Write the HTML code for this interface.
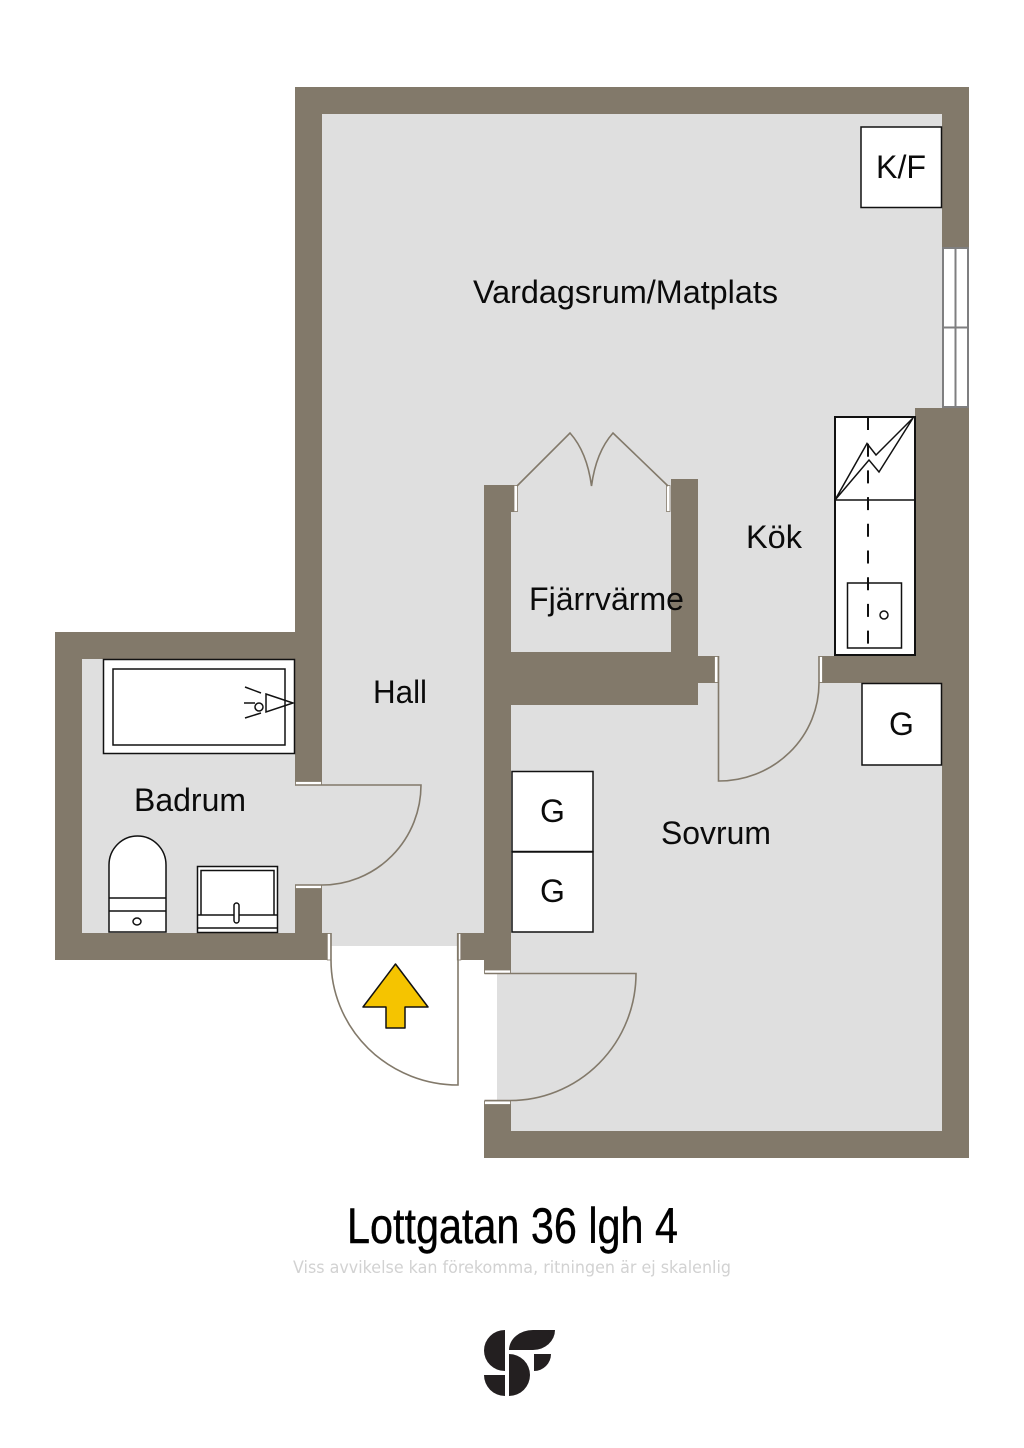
<!DOCTYPE html>
<html><head><meta charset="utf-8"><style>
html,body{margin:0;padding:0;background:#fff}
svg{display:block}
text{font-family:"Liberation Sans",sans-serif;fill:#0b0b0b}
.w{fill:#82796a}
.d{fill:none;stroke:#82796a;stroke-width:1.6}
.j{fill:#fff;stroke:#82796a;stroke-width:.8}
.b{fill:#fff;stroke:#111;stroke-width:2}
.t{fill:#fff;stroke:#111;stroke-width:1.5}
.l{fill:none;stroke:#111;stroke-width:1.5}
</style></head><body>
<svg width="1024" height="1448" viewBox="0 0 1024 1448" xmlns="http://www.w3.org/2000/svg">
<rect width="1024" height="1448" fill="#fff"/>
<!-- floors -->
<rect x="322" y="114" width="620" height="832" fill="#dfdfdf"/>
<rect x="82" y="659" width="240" height="274" fill="#dfdfdf"/>
<rect x="497" y="946" width="445" height="185" fill="#dfdfdf"/>
<rect x="458" y="946" width="39" height="27" fill="#fff"/>
<!-- walls -->
<rect class="w" x="295" y="87" width="674" height="27"/>
<rect class="w" x="295" y="87" width="27" height="697"/>
<rect class="w" x="942" y="87" width="27" height="1071"/>
<rect class="w" x="915" y="408" width="54" height="275"/>
<rect class="w" x="55" y="632" width="267" height="27"/>
<rect class="w" x="55" y="632" width="27" height="328"/>
<rect class="w" x="55" y="933" width="275" height="27"/>
<rect class="w" x="295" y="885" width="27" height="75"/>
<rect class="w" x="458" y="933" width="53" height="27"/>
<rect class="w" x="484" y="485" width="27" height="488"/>
<rect class="w" x="484" y="485" width="30" height="27"/>
<rect class="w" x="484" y="1101" width="27" height="57"/>
<rect class="w" x="484" y="1131" width="485" height="27"/>
<rect class="w" x="671" y="479" width="27" height="226"/>
<rect class="w" x="511" y="652" width="187" height="53"/>
<rect class="w" x="698" y="656" width="20" height="27"/>
<rect class="w" x="820" y="656" width="122" height="27"/>
<!-- window -->
<rect x="942" y="247" width="27" height="161" fill="#fff"/>
<g fill="none" stroke="#7f7f80" stroke-width="2">
<rect x="943" y="248" width="25" height="159"/>
<path d="M955.500 247V408M942 327.500H969"/>
</g>
<!-- door jambs -->
<rect class="j" x="327.300" y="933.500" width="3.500" height="26.500"/>
<rect class="j" x="457.300" y="933.500" width="3.500" height="26.500"/>
<rect class="j" x="295.500" y="781.500" width="26" height="3.500"/>
<rect class="j" x="295.500" y="885" width="26" height="3.500"/>
<rect class="j" x="484.500" y="970" width="26" height="3.500"/>
<rect class="j" x="484.500" y="1101" width="26" height="3.500"/>
<rect class="j" x="714.500" y="656.500" width="3.500" height="26"/>
<rect class="j" x="819" y="656.500" width="3.500" height="26"/>
<rect class="j" x="514" y="485.500" width="3.500" height="26"/>
<rect class="j" x="666.500" y="485.500" width="3.500" height="26"/>
<!-- doors -->
<path class="d" d="M458 933V1085A127 125 0 0 1 331 960V933"/>
<path class="d" d="M484.500 973.500H636A126 127 0 0 1 510 1100.500H484.500"/>
<path class="d" d="M295 785H421A99 100 0 0 1 322 885H295"/>
<path class="d" d="M718.500 656V781A100 98 0 0 0 819 683V656"/>
<path class="d" d="M517 486L570 433Q587 452 591.500 486Q596 452 613 433L668 486"/>
<!-- arrow -->
<path d="M395.500 964L428 1007H405V1028H386V1007H363Z" fill="#f5c400" stroke="#111" stroke-width="1.500" stroke-linejoin="round"/>
<!-- boxes -->
<rect class="t" x="861" y="127" width="80.500" height="80.500"/>
<rect class="t" x="862" y="683.500" width="79.500" height="81.500"/>
<rect class="t" x="512" y="771.500" width="81" height="80"/>
<rect class="t" x="512" y="852" width="81" height="80"/>
<!-- kitchen -->
<rect class="b" x="835" y="417" width="80" height="238"/>
<path class="l" d="M835 500H915"/>
<path class="l" stroke-linejoin="miter" d="M835 500L867 443.500L876 455L913 418L879 472L869 460Z"/>
<path d="M868 417V645" fill="none" stroke="#111" stroke-width="2" stroke-dasharray="13 13.700"/>
<rect class="l" x="847.500" y="583" width="54" height="65"/>
<circle class="l" cx="884" cy="615" r="4"/>
<!-- bath -->
<rect class="t" x="103.500" y="659.500" width="191" height="94"/>
<rect class="l" x="113" y="669" width="172" height="76"/>
<path class="l" d="M266 694L293 703L266 712ZM245 687L261 693M244 703H255M245 718L261 713"/>
<circle class="l" cx="259" cy="707" r="4"/>
<!-- toilet -->
<path class="t" d="M109 932V865A28.500 29 0 0 1 166 865V932Z"/>
<path class="l" d="M109 898H166M109 911H166"/>
<ellipse class="l" cx="137" cy="921.500" rx="4" ry="3.500"/>
<!-- basin -->
<rect class="t" x="197.500" y="866.500" width="80" height="66"/>
<path class="l" d="M201 915V870.500H274V915M197.500 915H277.500M197.500 928H277.500"/>
<rect class="t" x="234" y="903" width="5" height="20" rx="2.500"/>
<!-- labels -->
<text x="473" y="303" font-size="32" textLength="305" lengthAdjust="spacingAndGlyphs">Vardagsrum/Matplats</text>
<text x="876" y="178" font-size="32" textLength="50" lengthAdjust="spacingAndGlyphs">K/F</text>
<text x="746" y="548" font-size="32" textLength="56" lengthAdjust="spacingAndGlyphs">Kök</text>
<text x="529" y="610" font-size="32" textLength="155" lengthAdjust="spacingAndGlyphs">Fjärrvärme</text>
<text x="373" y="703" font-size="32" textLength="54" lengthAdjust="spacingAndGlyphs">Hall</text>
<text x="134" y="811" font-size="32" textLength="112" lengthAdjust="spacingAndGlyphs">Badrum</text>
<text x="661" y="844" font-size="32" textLength="110" lengthAdjust="spacingAndGlyphs">Sovrum</text>
<text x="889" y="735" font-size="32">G</text>
<text x="540" y="822" font-size="32">G</text>
<text x="540" y="902" font-size="32">G</text>
<text x="347" y="1243" font-size="50" textLength="331" lengthAdjust="spacingAndGlyphs" style="fill:#000;stroke:#000;stroke-width:.4">Lottgatan 36 lgh 4</text>
<text x="293" y="1273" font-size="17" textLength="438" lengthAdjust="spacingAndGlyphs" style="fill:#d2d2d2;font-family:'DejaVu Sans',sans-serif">Viss avvikelse kan förekomma, ritningen är ej skalenlig</text>
<!-- logo -->
<g fill="#231f20">
<path d="M505 1330A21 20.500 0 0 0 505 1371Z"/>
<path d="M484 1375H505V1396A21 21 0 0 1 484 1375Z"/>
<path d="M509 1354A21 21 0 0 1 509 1396Z"/>
<path d="M509 1350A24 20 0 0 1 533 1330H555A22 20 0 0 1 533 1350Z"/>
<path d="M534 1354H551A17 17 0 0 1 534 1371Z"/>
</g>
</svg>
</body></html>
